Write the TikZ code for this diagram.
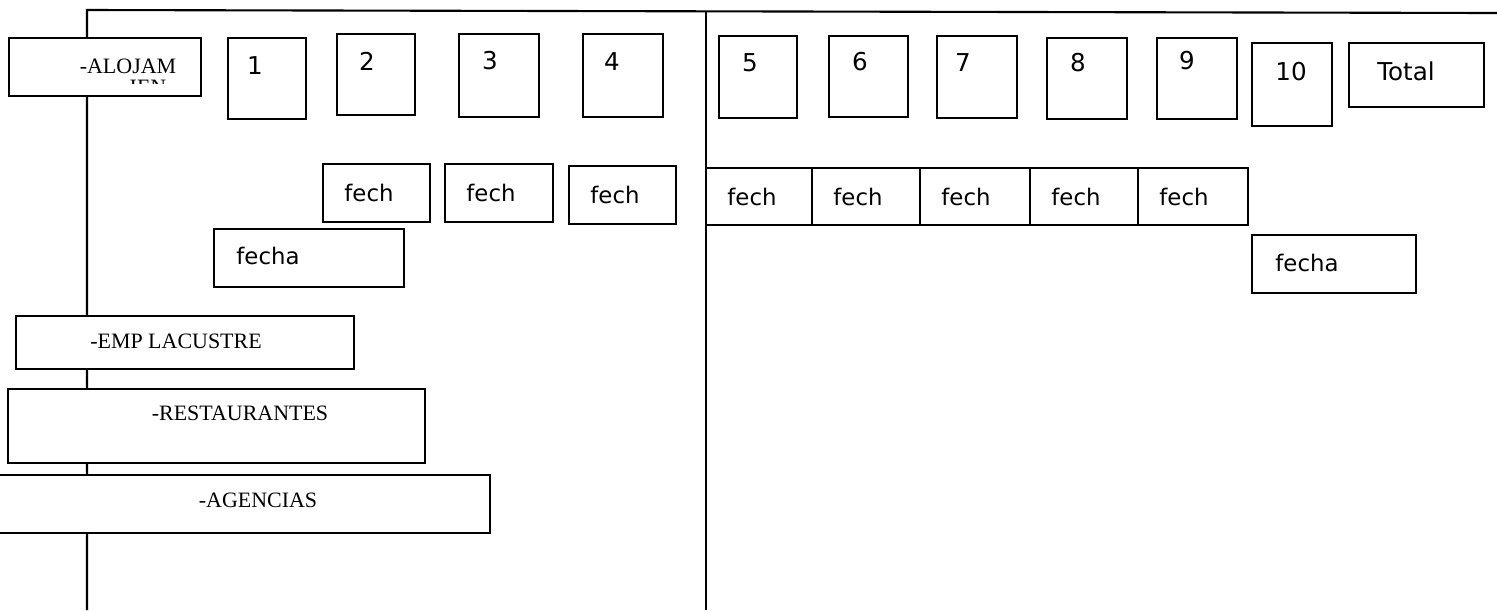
\documentclass[tikz,border=0pt]{standalone}
\usepackage{fontspec}
\setmainfont{Liberation Serif}
\newfontfamily\versans{DejaVu Sans}
\usepackage{tikz}

\begin{document}
\begin{tikzpicture}[x=0.02cm, y=-0.02cm,
    caja/.style={line width=1.6pt},
    marco/.style={line width=1.2pt},
    num/.style={font=\versans\fontsize{14}{16}\selectfont, inner sep=0pt},
    fech/.style={font=\versans\fontsize{13}{15}\selectfont, inner sep=0pt},
    rubro/.style={font=\fontsize{12.5}{14}\selectfont, inner sep=0pt}]
  \useasboundingbox (0,0) rectangle (1497,610);

  % marco
  \draw[marco] (87,610) -- (87,10) -- (1497,13);
  \draw[marco] (706,11) -- (706,610);

  % rubros
  \draw[caja, fill=white] (9,38) rectangle (201,96);
  \node[rubro] (aloj) at (128,66) {-ALOJAM};
  \begin{scope}
    \clip (9,38) rectangle (201,83);
    \node[rubro] (alojcorte) at (148,87) {IEN};
  \end{scope}
  \draw[caja, fill=white] (16,316) rectangle (354,369);
  \node[rubro] (lacustre) at (176,341) {-EMP LACUSTRE};
  \draw[caja, fill=white] (8,389) rectangle (425,463);
  \node[rubro] (restaur) at (240,413) {-RESTAURANTES};
  \draw[caja, fill=white] (-5,475) rectangle (490,533);
  \node[rubro] (agencias) at (258,500) {-AGENCIAS};

  % numeros
  \foreach \n/\xa/\ya/\xb/\yb/\tx/\ty in {1/228/38/306/119/255/66, 2/337/34/415/115/367/61,
      3/459/34/539/117/490/61, 4/583/34/663/117/612/62, 5/719/36/797/118/750/63,
      6/829/36/908/117/860/62, 7/937/36/1017/118/963/63, 8/1047/38/1127/119/1078/63,
      9/1157/38/1237/119/1187/61, 10/1252/43/1332/126/1291/72} {
    \draw[caja] (\xa,\ya) rectangle (\xb,\yb);
    \node[num] (n\n) at (\tx,\ty) {\n};
  }
  \draw[caja] (1349,43) rectangle (1484,107);
  \node[num] (total) at (1406,71) {Total};

  % fechas
  \foreach \i/\xa/\xb/\ya/\yb in {1/323/430/164/222, 2/445/553/164/222, 3/569/676/166/224,
      4/706/812/168/225, 5/812/920/168/225, 6/920/1030/168/225, 7/1030/1138/168/225,
      8/1138/1248/168/225} {
    \draw[caja] (\xa,\ya) rectangle (\xb,\yb);
    \node[fech] (f\i) at ({\xa+46},{(\ya+\yb)/2}) {fech};
  }
  \draw[caja] (214,229) rectangle (404,287);
  \node[fech] (fechaA) at (268,256) {fecha};
  \draw[caja] (1252,235) rectangle (1416,293);
  \node[fech] (fechaB) at (1307,263) {fecha};
\end{tikzpicture}
\end{document}
